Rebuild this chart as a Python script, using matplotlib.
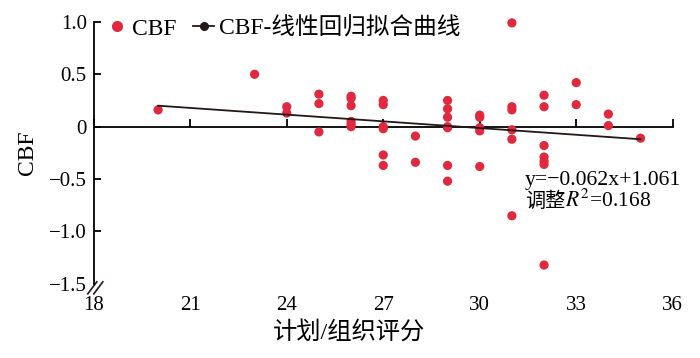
import matplotlib
matplotlib.use("Agg")
import matplotlib.pyplot as plt
from matplotlib.lines import Line2D

plt.rcParams['font.family'] = ['Liberation Serif', 'Noto Sans CJK SC']
plt.rcParams['mathtext.fontset'] = 'stix'
plt.rcParams['axes.unicode_minus'] = True

# scatter data: planning/organisation score vs CBF
score = [20, 23, 24, 24, 25, 25, 25,
         26, 26, 26, 26, 26, 26,
         27, 27, 27, 27, 27, 27,
         28, 28,
         29, 29, 29, 29, 29, 29, 29,
         30, 30, 30, 30, 30,
         31, 31, 31, 31, 31, 31,
         32, 32, 32, 32, 32, 32, 32,
         33, 33, 34, 34, 35]
cbf = [0.16, 0.50, 0.19, 0.13, 0.31, 0.22, -0.05,
       0.29, 0.27, 0.20, 0.05, 0.02, 0.00,
       0.25, 0.21, 0.00, -0.02, -0.27, -0.37,
       -0.09, -0.34,
       0.25, 0.17, 0.09, -0.01, -0.37, -0.52, 0.00,
       0.11, 0.09, -0.01, -0.04, -0.38,
       0.99, 0.19, 0.16, -0.03, -0.12, -0.85,
       0.30, 0.19, -0.18, -0.29, -0.33, -0.36, -1.32,
       0.42, 0.21, 0.12, 0.01, -0.11]

# fitted line as drawn
fit_x = [20, 35]
fit_y = [0.20, -0.12]

x_ticks = [18, 21, 24, 27, 30, 33, 36]
y_ticks = [1.0, 0.5, 0, -0.5, -1.0, -1.5]
y_tick_labels = ['1.0', '0.5', '0', '\u22120.5', '\u22121.0', '\u22121.5']

RED = '#e0283f'
DARK = '#231815'


def main():
    fig = plt.figure(figsize=(7, 3.58), dpi=100)
    ax = fig.add_axes([0.134, 0.207, 0.827, 0.732])

    ax.scatter(score, cbf, s=44, color=RED, edgecolors='none', zorder=3,
               clip_on=False)
    ax.plot(fit_x, fit_y, color=DARK, lw=1.3, zorder=4)

    ax.set_xlim(18, 36)
    ax.set_ylim(-1.5, 1.0)

    for side in ['top', 'right']:
        ax.spines[side].set_visible(False)
    ax.spines['bottom'].set_position(('data', 0))
    ax.spines['bottom'].set_linewidth(1.3)
    ax.spines['left'].set_linewidth(1.3)

    ax.set_xticks(x_ticks)
    ax.tick_params(axis='x', direction='in', length=6, width=1.3,
                   labelbottom=False)
    ax.set_yticks(y_ticks)
    ax.set_yticklabels(y_tick_labels)
    ax.tick_params(axis='y', direction='in', length=5, width=1.3,
                   labelsize=15, pad=5)
    ax.yaxis.get_major_ticks()[-1].tick1line.set_visible(False)

    # tick labels and title for x sit under the plot
    sec = ax.secondary_xaxis('bottom')
    sec.set_xticks(x_ticks)
    sec.spines['bottom'].set_visible(False)
    sec.tick_params(length=0, labelsize=15, pad=9)
    sec.set_xlabel('计划/组织评分', fontsize=17.5, labelpad=4)
    sec.xaxis.label.set_x(0.44)

    ax.set_ylabel('CBF', fontsize=17, labelpad=8)

    # axis break marks
    for dx in (0.0, 0.0104):
        ax.plot([-0.0104 + dx, 0.0052 + dx], [-0.038, 0.008], color=DARK,
                lw=1.2, transform=ax.transAxes, clip_on=False)

    ax.text(31.4, -0.555, 'y=\u22120.062x+1.061', fontsize=15.7,
            va='baseline')
    t1 = ax.text(31.4, -0.765, '调整', fontsize=14.5, va='baseline')
    ax.annotate('$R^2$=0.168', xy=(1, -0.765), xycoords=(t1, 'data'),
                fontsize=15.5, va='baseline', ha='left')

    handles = [
        Line2D([], [], ls='none', marker='o', ms=8, color=RED,
               mec='none'),
        Line2D([], [], color=DARK, lw=1.3, marker='o', ms=5.5),
    ]
    ax.legend(handles, ['CBF', 'CBF-线性回归拟合曲线'], loc='upper left',
              bbox_to_anchor=(0.0215, 1.017), ncol=2, frameon=False,
              fontsize=17, handlelength=0.9, handletextpad=0.2,
              columnspacing=0.7, borderaxespad=0, borderpad=0)

    fig.savefig('out.png', dpi=100)


if __name__ == "__main__":
    main()
